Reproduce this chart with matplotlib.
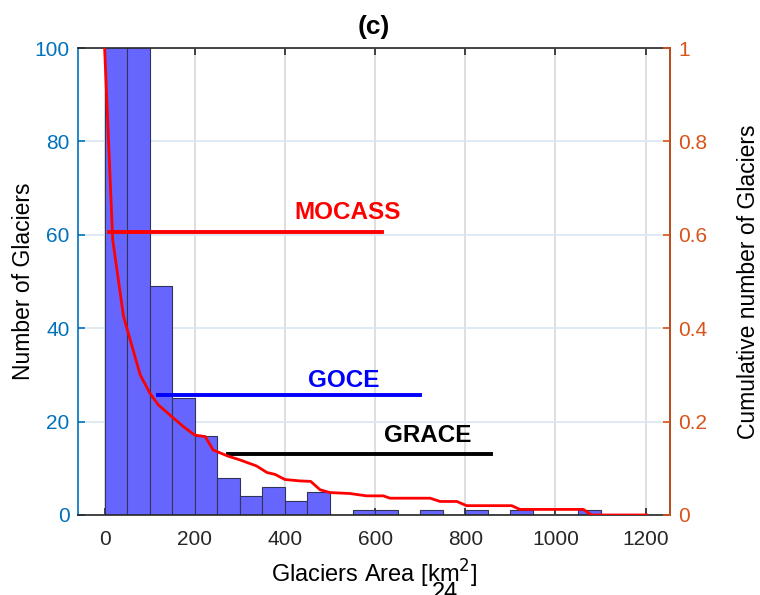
import numpy as np
import matplotlib.pyplot as plt

plt.rcParams['font.family'] = ['Liberation Sans', 'DejaVu Sans']

# histogram: bin edges (km^2) and glacier counts (first two bins clipped at 100)
bin_edges = np.arange(0, 1101, 50)
counts = [130, 110, 49, 25, 17, 8, 4, 6, 3, 5, 0, 1, 1, 0, 1, 0, 1, 0, 1, 0, 0, 1]

# cumulative curve (right axis)
cum_x = [0, 18, 42, 79, 101, 119, 145, 175, 200, 223, 241, 274, 300, 337, 360, 378,
         400, 433, 457, 478, 500, 544, 581, 618, 633, 640, 722, 744, 781, 803, 903,
         921, 1062, 1080, 1202]
cum_y = [1.0, 0.589, 0.425, 0.30, 0.26, 0.236, 0.214, 0.189, 0.171, 0.168, 0.139,
         0.126, 0.118, 0.105, 0.091, 0.087, 0.076, 0.073, 0.072, 0.054, 0.048, 0.046,
         0.041, 0.041, 0.036, 0.036, 0.036, 0.029, 0.029, 0.020, 0.020, 0.012, 0.012,
         0.0, 0.0]

# mission resolution lines
missions = ['MOCASS', 'GOCE', 'GRACE']
m_start = [10, 118, 274]
m_end = [615, 700, 857]
m_level = [60.6, 25.7, 13.0]
m_colors = ['#ff0000', '#0000ff', '#000000']
m_label_x = [540, 531, 716]
m_label_y = [64.7, 28.9, 17.1]

blue = (0, 0.447, 0.741)
orange = (0.85, 0.325, 0.098)
tick_gray = (0.15, 0.15, 0.15)

fig = plt.figure(figsize=(7.6, 5.95), dpi=100)
ax = fig.add_axes([78 / 760, 80 / 595, 592 / 760, 467 / 595])

ax.bar(bin_edges[:-1], counts, width=50, align='edge', color=(0.4, 0.4, 1.0),
       edgecolor=(0.2, 0.2, 0.35), linewidth=0.8, zorder=2)

for name, x0, x1, lv, c, lx, ly in zip(missions, m_start, m_end, m_level, m_colors,
                                       m_label_x, m_label_y):
    ax.plot([x0, x1], [lv, lv], color=c, lw=2.8, zorder=3)
    ax.text(lx, ly, name, color=c, fontsize=17.5, fontweight='bold',
            ha='center', va='center', zorder=4)

ax.set_xlim(-59, 1254)
ax.set_ylim(0, 100)
ax.set_xticks(np.arange(0, 1201, 200))
ax.set_yticks(np.arange(0, 101, 20))
ax.grid(axis='x', color=(0.85, 0.85, 0.85), lw=1.2, zorder=0)
ax.grid(axis='y', color=(0.85, 0.9, 0.95), lw=1.2, zorder=0)
ax.set_axisbelow(True)
ax.tick_params(axis='x', direction='in', colors=tick_gray, labelsize=15, top=True,
               length=5, width=1.2, pad=11)
ax.tick_params(axis='y', direction='in', colors=blue, labelsize=15, length=5, width=1.2,
               pad=6)
ax.spines['left'].set_color(blue)
ax.spines['bottom'].set_color(tick_gray)
ax.spines['top'].set_color(tick_gray)
for s in ax.spines.values():
    s.set_linewidth(1.2)
ax.set_xlabel('Glaciers Area [km$^2$]', fontsize=17, color='black', labelpad=6)
ax.set_ylabel('Number of Glaciers', fontsize=16.5, color='black', labelpad=0)
ax.set_title('(c)', fontsize=19, fontweight='bold', pad=10)

ax2 = ax.twinx()
ax2.plot(cum_x, cum_y, color='#ff0000', lw=2, zorder=5)
ax2.set_ylim(0, 1)
ax2.set_yticks([0, 0.2, 0.4, 0.6, 0.8, 1])
ax2.set_yticklabels(['0', '0.2', '0.4', '0.6', '0.8', '1'])
ax2.tick_params(axis='y', direction='in', colors=orange, labelsize=15, length=5, width=1.2,
                pad=6)
ax2.spines['right'].set_color(orange)
ax2.spines['right'].set_linewidth(1.2)
ax2.spines['left'].set_visible(False)
ax2.spines['top'].set_visible(False)
ax2.spines['bottom'].set_visible(False)
ax2.set_ylabel('Cumulative number of Glaciers', fontsize=16.5, color='black', labelpad=21)

fig.text(445 / 760, 1 - 582 / 595, '24', fontsize=17, ha='center', va='top')

fig.savefig('out.png', dpi=100)
